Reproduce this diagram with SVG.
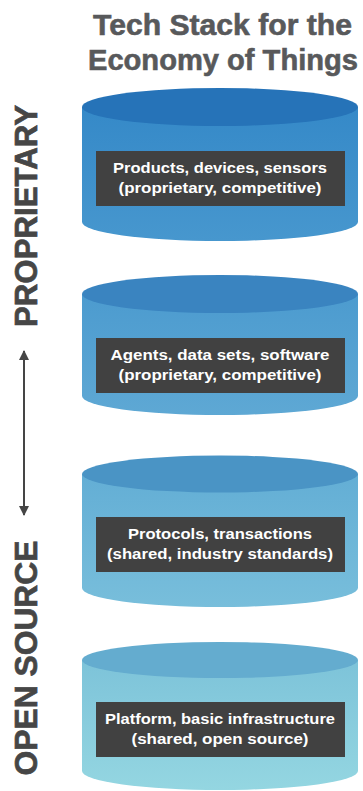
<svg xmlns="http://www.w3.org/2000/svg" width="363" height="791" viewBox="0 0 363 791">
  <defs>
    <linearGradient id="g1" x1="0" y1="0" x2="0" y2="1">
      <stop offset="0" stop-color="#3589c8"/><stop offset="1" stop-color="#4797ce"/>
    </linearGradient>
    <linearGradient id="g2" x1="0" y1="0" x2="0" y2="1">
      <stop offset="0" stop-color="#4c9bcf"/><stop offset="1" stop-color="#5ea8d4"/>
    </linearGradient>
    <linearGradient id="g3" x1="0" y1="0" x2="0" y2="1">
      <stop offset="0" stop-color="#63aed5"/><stop offset="1" stop-color="#78bedb"/>
    </linearGradient>
    <linearGradient id="g4" x1="0" y1="0" x2="0" y2="1">
      <stop offset="0" stop-color="#7dc3d9"/><stop offset="1" stop-color="#94d6e1"/>
    </linearGradient>
    <marker id="ah" viewBox="0 0 10 10" refX="9" refY="5" markerWidth="5" markerHeight="5" orient="auto-start-reverse" markerUnits="strokeWidth">
      <path d="M0,0 L10,5 L0,10 Z" fill="#454545"/>
    </marker>
  </defs>
  <style>
    .title { font-family: "Liberation Sans", Arial, sans-serif; font-weight: bold; font-size: 29px; fill: #58595b; stroke: #58595b; stroke-width: 0.6px; text-anchor: middle; }
    .side { font-family: "Liberation Sans", Arial, sans-serif; font-weight: bold; font-size: 32px; fill: #464646; stroke: #464646; stroke-width: 0.7px; text-anchor: middle; }
    .box { fill: #414141; }
    .lbl { font-family: "Liberation Sans", Arial, sans-serif; font-weight: bold; font-size: 14.5px; fill: #ffffff; text-anchor: middle; }
  </style>

  <g id="title">
    <text class="title" x="222.5" y="35" textLength="259" lengthAdjust="spacingAndGlyphs">Tech Stack for the</text>
    <text class="title" x="223" y="70" textLength="270" lengthAdjust="spacingAndGlyphs">Economy of Things</text>
  </g>

  <g id="side-labels">
    <text class="side" transform="translate(37,216) rotate(-90)" x="0" y="0" textLength="222" lengthAdjust="spacingAndGlyphs">PROPRIETARY</text>
    <text class="side" transform="translate(37,658) rotate(-90)" x="0" y="0" textLength="235" lengthAdjust="spacingAndGlyphs">OPEN SOURCE</text>
  </g>

  <g id="connectors">
    <line x1="24" y1="515" x2="24" y2="351" stroke="#454545" stroke-width="2" marker-start="url(#ah)" marker-end="url(#ah)"/>
  </g>

  <g id="layer1">
    <path d="M82,107 L82,222 A138,19 0 0 0 358,222 L358,107 Z" fill="url(#g1)"/>
    <ellipse cx="220" cy="107" rx="138" ry="19" fill="#2673b8"/>
    <rect class="box" x="96" y="151" width="249" height="55"/>
    <text class="lbl" x="220" y="173" textLength="214" lengthAdjust="spacingAndGlyphs">Products, devices, sensors</text>
    <text class="lbl" x="220" y="193" textLength="203" lengthAdjust="spacingAndGlyphs">(proprietary, competitive)</text>
  </g>

  <g id="layer2">
    <path d="M82,294 L82,396 A138,19 0 0 0 358,396 L358,294 Z" fill="url(#g2)"/>
    <ellipse cx="220" cy="294" rx="138" ry="19" fill="#3a84c0"/>
    <rect class="box" x="96" y="338" width="249" height="55"/>
    <text class="lbl" x="220" y="360" textLength="219" lengthAdjust="spacingAndGlyphs">Agents, data sets, software</text>
    <text class="lbl" x="220" y="380" textLength="203" lengthAdjust="spacingAndGlyphs">(proprietary, competitive)</text>
  </g>

  <g id="layer3">
    <path d="M82,474 L82,588 A138,19 0 0 0 358,588 L358,474 Z" fill="url(#g3)"/>
    <ellipse cx="220" cy="474" rx="138" ry="18.5" fill="#4a94c5"/>
    <rect class="box" x="96" y="517" width="249" height="55"/>
    <text class="lbl" x="220" y="539" textLength="184" lengthAdjust="spacingAndGlyphs">Protocols, transactions</text>
    <text class="lbl" x="220" y="559" textLength="226" lengthAdjust="spacingAndGlyphs">(shared, industry standards)</text>
  </g>

  <g id="layer4">
    <path d="M82,660 L82,771 A138,19 0 0 0 358,771 L358,660 Z" fill="url(#g4)"/>
    <ellipse cx="220" cy="660" rx="138" ry="18" fill="#64accf"/>
    <rect class="box" x="96" y="702" width="249" height="55"/>
    <text class="lbl" x="220" y="724" textLength="230" lengthAdjust="spacingAndGlyphs">Platform, basic infrastructure</text>
    <text class="lbl" x="220" y="744" textLength="177" lengthAdjust="spacingAndGlyphs">(shared, open source)</text>
  </g>
</svg>
